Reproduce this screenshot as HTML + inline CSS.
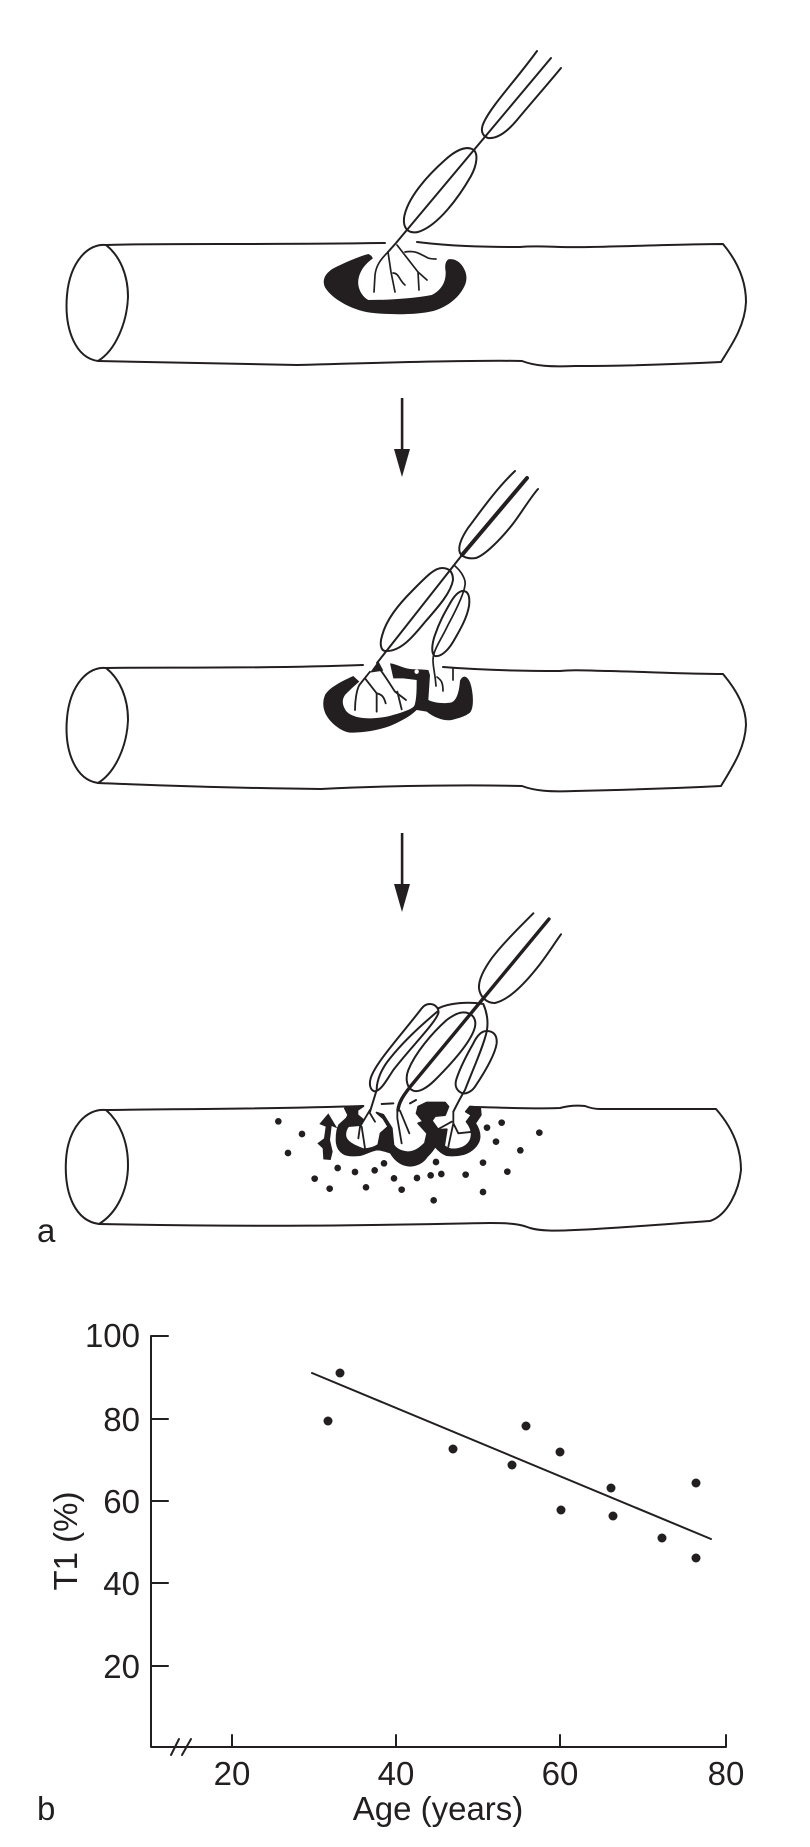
<!DOCTYPE html>
<html><head><meta charset="utf-8"><style>
html,body{margin:0;padding:0;background:#fff}
svg{display:block}
text{font-family:"Liberation Sans",sans-serif;fill:#231f20;font-size:33px}
.l{fill:none;stroke:#231f20;stroke-width:2;stroke-linecap:round;stroke-linejoin:round}
.k{fill:#231f20;stroke:none}
</style></head><body>
<svg width="810" height="1847" viewBox="0 0 810 1847" xmlns="http://www.w3.org/2000/svg">
<rect width="810" height="1847" fill="#fff"/>

<!-- Tube 1 -->
<g class="l">
<path d="M106,245C88,243 70,262 67,295C64,330 76,358 98,361C116,350 127,322 128,297C128,275 120,256 106,245Z"/>
<path d="M106,245C160,243 260,245 385,243"/>
<path d="M417,242C450,246 480,247 520,247C540,245 560,248 590,247C640,246 690,244 723,244C738,262 746,282 746,302C745,325 733,343 721,362C680,364 620,366 575,366C550,367 535,366 522,361C480,360 400,362 297,365C220,364 150,362 98,361"/>
<!-- pipette -->
<path d="M537,51C516,80 492,105 484,122C480,130 482,136 488,138C497,139 507,132 517,120C532,102 547,85 561,68"/>
<path d="M551,58L396,243L388,252"/>
<path d="M472,149C479,152 477,165 471,176C459,197 438,226 418,232C408,234 403,228 404,218C407,198 428,175 445,160C455,151 465,146 472,149Z"/>
<g stroke-width="1.7">
<path d="M388,252C380,260 376,266 375,275L374,292"/>
<path d="M388,252L391,272L395,292"/>
<path d="M393,273C399,273 399,280 405,285"/>
<path d="M397,245L418,272L427,280M418,272L419,290"/>
<path d="M405,252C415,250 420,254 428,258C431,259 433,259 436,259"/>
</g>
</g>
<g transform="translate(300,200) scale(0.33333)">
<path class="k" d="M205,162C212,165 218,170 218,176C190,195 172,225 175,255C178,275 190,292 205,300C270,300 340,295 395,285C425,270 438,245 437,215C434,200 435,185 445,178C460,175 475,182 485,195C500,215 503,235 495,255C480,290 445,320 400,333C350,345 270,345 210,338C150,328 95,295 75,262C65,240 75,220 100,205C130,190 175,170 205,162Z"/>
</g>

<!-- Arrow 1 -->
<rect class="k" x="400.8" y="398" width="2.6" height="55"/>
<path class="k" d="M394,449L410,449L402,477Z"/>

<!-- Tube 2 -->
<g class="l">
<path d="M106,668C88,666 70,685 67,718C64,752 76,780 98,783C116,772 127,745 128,720C128,698 120,679 106,668Z"/>
<path d="M106,668C160,667 260,669 363,665"/>
<path d="M443,667C480,670 520,671 560,671C575,669 590,671 610,671C650,672 690,674 723,674C738,692 746,708 746,725C745,748 733,766 721,786C680,788 620,790 575,791C550,792 535,791 522,786C480,785 400,785 321,789C220,788 150,785 98,783"/>
<!-- pipette -->
<path d="M515,471C495,490 478,515 468,528C460,540 458,548 460,553C463,558 470,559 476,558C485,555 500,540 512,525C520,515 530,498 538,489"/>
<path d="M527,478L462,555" stroke-width="4"/>
<path d="M462,555L377,663"/>
<path d="M442,568C450,568 453,573 453,580C451,592 440,605 425,622C412,638 400,652 385,651C380,650 380,642 382,636C386,620 398,605 413,590C425,578 434,568 442,568Z"/>
<path d="M463,591C469,591 470,598 469,606C467,618 460,630 453,642C447,652 440,657 435,656C431,654 432,645 434,638C439,622 445,612 452,600C456,594 460,591 463,591Z"/>
<path d="M455,566C462,572 466,580 465,585C464,594 455,612 448,625C441,640 433,650 433,660C433,668 435,672 436,686" stroke-width="1.7"/>
<path d="M437,677C441,680 443,682 443,691M453,668L453,680" stroke-width="1.7"/>
</g>
<g transform="translate(320,650) scale(0.33333)">
<path class="k" d="M100,78L118,95C100,110 85,125 75,135C65,150 66,165 80,185C95,200 120,205 150,205C190,205 220,195 245,187C265,180 280,175 284,165C290,145 290,115 290,90L250,85L220,85L210,40C220,40 235,47 250,52C265,58 285,58 300,58L325,60L330,75L325,150C340,158 370,162 395,157C412,150 418,120 420,92C425,82 430,80 435,80C448,84 455,105 458,135C460,160 458,178 450,188C435,200 415,205 395,210C375,214 345,205 320,185L290,180C270,200 240,215 210,228C170,242 130,248 90,248C65,244 40,225 25,205C10,185 5,160 15,135C25,118 50,100 100,78Z"/>
<circle cx="290" cy="65" r="6.5" fill="#fff"/>
<path class="k" d="M175,33L190,62L150,68Z"/>
<g class="l" style="stroke-width:5.5">
<path d="M150,65L118,105C110,120 105,150 105,180"/>
<path d="M135,85L170,130L170,185"/>
<path d="M170,130C185,133 192,140 197,160"/>
<path d="M180,58C200,85 215,110 225,125L258,150M232,125L245,178"/>
</g>
</g>

<!-- Arrow 2 -->
<rect class="k" x="400.8" y="833" width="2.6" height="55"/>
<path class="k" d="M394,884L410,884L402,912Z"/>

<!-- Tube 3 -->
<g class="l">
<path d="M106,1110C86,1108 68,1128 66,1160C64,1195 76,1221 99,1224C117,1213 128,1190 128,1165C128,1142 120,1122 106,1110Z"/>
<path d="M106,1110C180,1109 270,1109 363,1106"/>
<path d="M477,1107C510,1108 540,1109 560,1108C567,1106 575,1105 585,1106C590,1108 594,1109 600,1109C640,1109 680,1109 716,1109C730,1125 741,1145 741,1170C739,1190 728,1215 710,1221C680,1223 620,1228 575,1230C555,1231 540,1231 530,1228C520,1224 510,1223 490,1223C420,1224 300,1228 99,1224"/>
</g>
<!-- pipette top -->
<g transform="translate(260,900) scale(0.33333)">
<g class="l" style="stroke-width:6">
<path d="M820,40C775,85 725,135 695,175C670,210 655,240 657,265C660,290 680,310 705,309C745,300 790,255 830,205C855,175 880,135 903,103"/>
</g>
</g>
<path class="l" style="stroke-width:3.4" d="M549,919L410,1087C403,1096 399,1102 398,1110"/>
<g transform="translate(360,980) scale(0.33333)">
<g class="l" style="stroke-width:6">
<path d="M210,72C225,72 238,85 235,100C225,130 150,205 100,270C80,300 65,330 45,334C30,332 27,312 32,295C45,250 120,170 185,85C192,76 200,72 210,72Z"/>
<path d="M232,95C190,130 130,185 90,235C65,265 50,300 50,330L30,395"/>
<path d="M310,97C335,97 350,115 345,140C335,185 270,255 225,300C200,325 175,338 160,332C140,325 135,295 145,270C165,220 215,160 260,120C280,105 295,97 310,97Z"/>
<path d="M380,153C400,153 412,165 410,190C405,225 375,275 345,320C335,335 315,345 303,338C288,330 283,315 290,295C300,265 320,225 340,190C352,165 365,153 380,153Z"/>
<path d="M235,85C270,68 325,65 370,72C382,100 385,130 380,155"/>
<path d="M380,155C370,200 340,265 315,330C300,355 290,375 280,395"/>
<path d="M65,372L100,370M150,370L168,360"/>
</g>
</g>
<!-- black band 3 -->
<g transform="translate(320,1090) scale(0.33333)">
<path class="k" style="stroke:#231f20;stroke-width:6;stroke-linejoin:round" d="M75,55L130,48L112,60L112,75L130,90L120,105L85,108C78,115 74,128 76,140C80,155 95,165 130,178C150,178 165,172 175,165L182,130L205,110L190,85L170,68L190,75L215,115L220,165C228,178 245,185 262,187C285,187 300,175 315,160L322,130L295,100L310,95L290,70L295,50L320,38L375,38L385,50L375,75L345,78L335,92L355,120L380,118L372,168C385,178 395,180 410,178C430,175 445,165 452,150C460,130 452,110 440,95L455,75L438,65L450,50L480,52L482,75L465,100C475,115 480,130 478,145C475,165 455,185 430,192C410,197 395,197 380,195C365,190 355,180 345,168C340,180 330,190 320,200C310,215 295,225 270,227C245,226 225,210 212,188C195,182 185,178 170,178C150,182 135,192 120,195C100,197 80,197 70,190C55,180 50,165 50,150C50,130 52,115 58,105L80,85L85,75Z"/>
<g class="l" style="stroke-width:5.5">
<path d="M232,60L232,85L245,160M240,62L268,130"/>
<path d="M400,65L400,100L385,170M400,100L415,130L460,125M350,120L395,95"/>
<path d="M150,60L120,110L115,145M150,70L165,95M125,110L135,175"/>
</g>
</g>
<g transform="translate(260,900) scale(0.33333)">
<path class="k" d="M205,640L232,685L215,678L210,720L218,755L212,780L190,778L188,745L172,730L192,715L197,680L178,672Z"/>
<g class="k">
<circle cx="55" cy="664" r="10"/><circle cx="126" cy="702" r="10"/><circle cx="84" cy="759" r="10"/><circle cx="233" cy="804" r="10"/><circle cx="164" cy="836" r="10"/><circle cx="209" cy="866" r="10"/><circle cx="285" cy="816" r="10"/><circle cx="344" cy="811" r="10"/><circle cx="372" cy="790" r="10"/><circle cx="318" cy="862" r="10"/><circle cx="402" cy="835" r="10"/><circle cx="425" cy="869" r="10"/><circle cx="471" cy="834" r="10"/><circle cx="512" cy="826" r="10"/><circle cx="544" cy="822" r="10"/><circle cx="528" cy="786" r="10"/><circle cx="521" cy="901" r="10"/><circle cx="617" cy="824" r="10"/><circle cx="669" cy="788" r="10"/><circle cx="669" cy="876" r="10"/><circle cx="742" cy="815" r="10"/><circle cx="708" cy="725" r="10"/><circle cx="681" cy="683" r="10"/><circle cx="725" cy="668" r="10"/><circle cx="781" cy="751" r="10"/><circle cx="838" cy="698" r="10"/>
</g>
</g>
<text x="37" y="1242">a</text>

<!-- Chart -->
<g class="l" stroke-linecap="butt">
<path d="M168,1336H151V1747H726V1735M151,1419H168M151,1501H168M151,1583H168M151,1666H168M232,1747V1735M396,1747V1735M560,1747V1735"/>
<path d="M171,1755L179,1739M182,1755L191,1739"/>
<path d="M312,1373L711,1539"/>
</g>
<g class="k">
<circle cx="328" cy="1421" r="4.5"/><circle cx="340" cy="1373" r="4.5"/><circle cx="453" cy="1449" r="4.5"/><circle cx="512" cy="1465" r="4.5"/><circle cx="526" cy="1426" r="4.5"/><circle cx="560" cy="1452" r="4.5"/><circle cx="561" cy="1510" r="4.5"/><circle cx="611" cy="1488" r="4.5"/><circle cx="613" cy="1516" r="4.5"/><circle cx="662" cy="1538" r="4.5"/><circle cx="696" cy="1483" r="4.5"/><circle cx="696" cy="1558" r="4.5"/>
</g>
<g text-anchor="end">
<text x="140" y="1347">100</text><text x="140" y="1431">80</text><text x="140" y="1513">60</text><text x="140" y="1595">40</text><text x="140" y="1678">20</text>
</g>
<g text-anchor="middle">
<text x="232" y="1785">20</text><text x="396" y="1785">40</text><text x="560" y="1785">60</text><text x="726" y="1785">80</text>
<text x="438" y="1820">Age (years)</text>
<text transform="translate(77,1541) rotate(-90)">T1 (%)</text>
</g>
<text x="37" y="1820">b</text>
</svg>
</body></html>
